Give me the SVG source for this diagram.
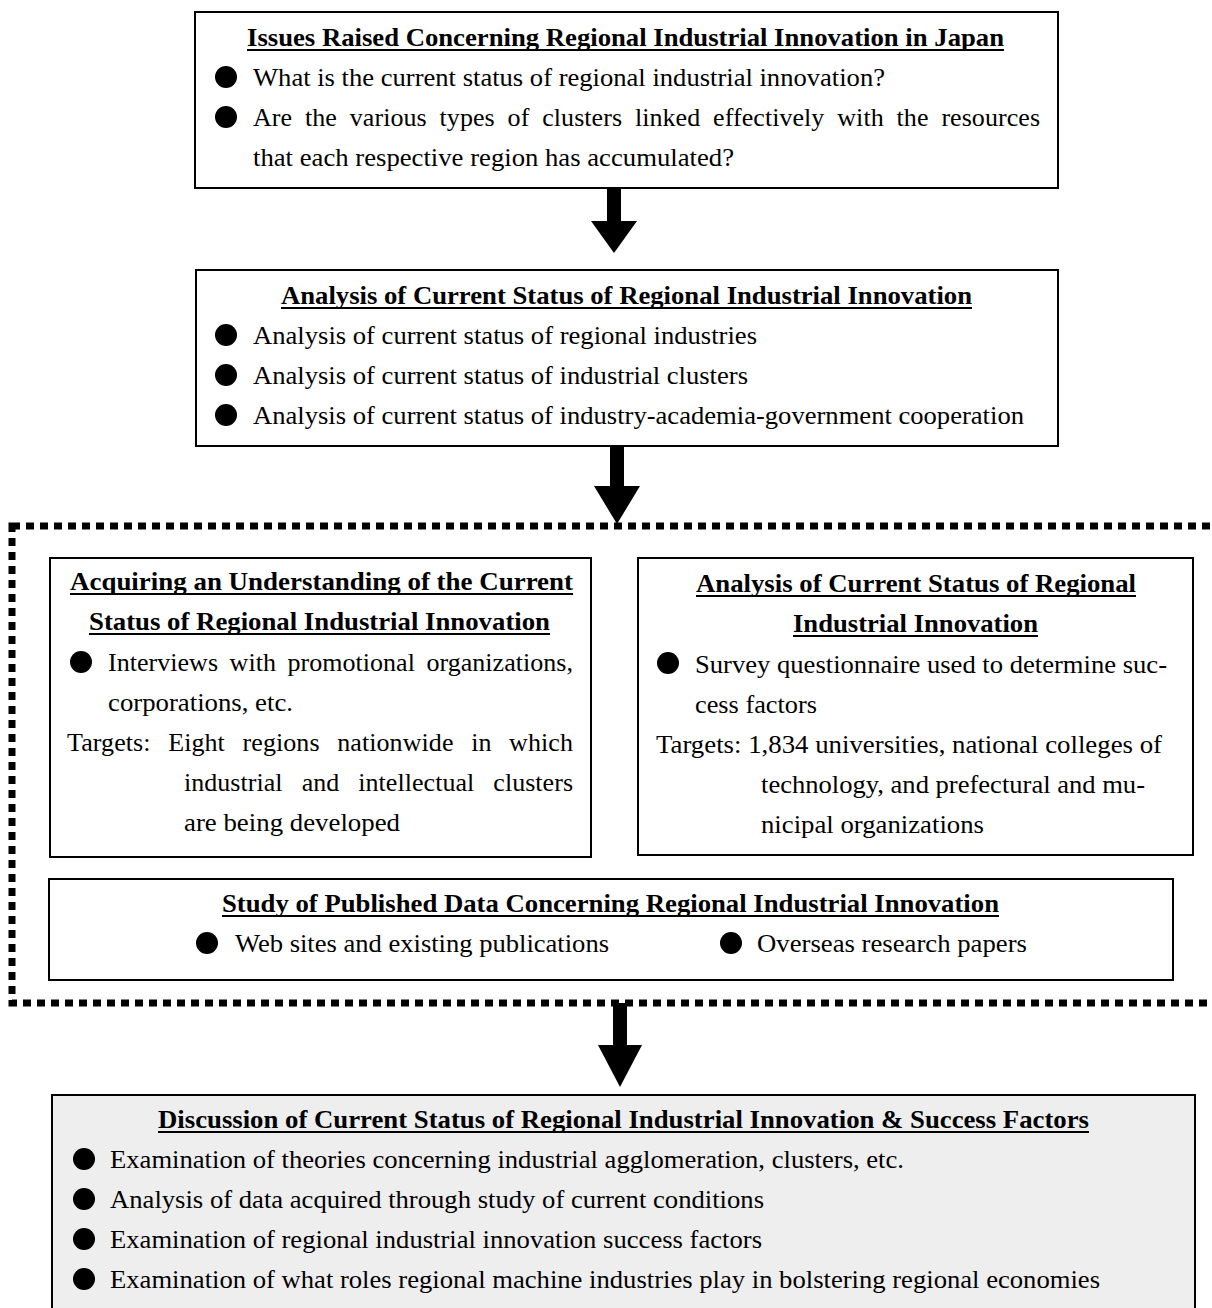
<svg xmlns="http://www.w3.org/2000/svg" width="1212" height="1308" viewBox="0 0 1212 1308">
<style>
.box{fill:#fff;stroke:#000;stroke-width:2}
.grey{fill:#eeeeee;stroke:#000;stroke-width:2}
text{font-family:"Liberation Serif","Times New Roman",serif;font-size:26px;fill:#000}
.t{font-weight:bold}
.ul{stroke:#000;stroke-width:2}
.dot{fill:#000}
.arrow{fill:#000}
.dash{fill:none;stroke:#000;stroke-width:7;stroke-dasharray:8 6}
</style>
<rect width="1212" height="1308" fill="#fff"/>
<g id="connectors">
<polygon class="arrow" points="607,188 621,188 621,221 637,221 614,253 591,221 607,221"/>
<polygon class="arrow" points="610,446 624,446 624,486 640,486 617,524 594,486 610,486"/>
<polygon class="arrow" points="613,1003 627,1003 627,1045 642,1045 620,1087 598,1045 613,1045"/>
</g>
<g id="group-frame">
<rect class="dash" x="12" y="526" width="1220" height="477"/>
</g>
<g id="node-issues">
<rect class="box" x="195" y="12" width="863" height="176"/>
<text class="t" x="247" y="46" textLength="757" lengthAdjust="spacingAndGlyphs">Issues Raised Concerning Regional Industrial Innovation in Japan</text>
<line class="ul" x1="247" y1="50" x2="1004" y2="50"/>
<circle class="dot" cx="226" cy="77" r="11"/>
<text x="253" y="86" textLength="632" lengthAdjust="spacingAndGlyphs">What is the current status of regional industrial innovation?</text>
<circle class="dot" cx="226" cy="117" r="11"/>
<text x="253" y="126" word-spacing="6.3" textLength="787" lengthAdjust="spacing">Are the various types of clusters linked effectively with the resources</text>
<text x="253" y="166" textLength="481" lengthAdjust="spacingAndGlyphs">that each respective region has accumulated?</text>
</g>
<g id="node-analysis">
<rect class="box" x="196" y="270" width="862" height="176"/>
<text class="t" x="281" y="304" textLength="691" lengthAdjust="spacingAndGlyphs">Analysis of Current Status of Regional Industrial Innovation</text>
<line class="ul" x1="281" y1="308" x2="972" y2="308"/>
<circle class="dot" cx="226" cy="335" r="11"/>
<text x="253" y="344" textLength="504" lengthAdjust="spacingAndGlyphs">Analysis of current status of regional industries</text>
<circle class="dot" cx="226" cy="375" r="11"/>
<text x="253" y="384" textLength="495" lengthAdjust="spacingAndGlyphs">Analysis of current status of industrial clusters</text>
<circle class="dot" cx="226" cy="415" r="11"/>
<text x="253" y="424" textLength="771" lengthAdjust="spacingAndGlyphs">Analysis of current status of industry-academia-government cooperation</text>
</g>
<g id="node-acquiring">
<rect class="box" x="50" y="558" width="541" height="299"/>
<text class="t" x="70" y="590" textLength="503" lengthAdjust="spacingAndGlyphs">Acquiring an Understanding of the Current</text>
<line class="ul" x1="70" y1="594" x2="573" y2="594"/>
<text class="t" x="89" y="630" textLength="461" lengthAdjust="spacingAndGlyphs">Status of Regional Industrial Innovation</text>
<line class="ul" x1="89" y1="634" x2="550" y2="634"/>
<circle class="dot" cx="81" cy="662" r="11"/>
<text x="108" y="671" word-spacing="5" textLength="465" lengthAdjust="spacing">Interviews with promotional organizations,</text>
<text x="108" y="711" textLength="185" lengthAdjust="spacingAndGlyphs">corporations, etc.</text>
<text x="67" y="751" word-spacing="11" textLength="506" lengthAdjust="spacing">Targets: Eight regions nationwide in which</text>
<text x="184" y="791" word-spacing="12.5" textLength="389" lengthAdjust="spacing">industrial and intellectual clusters</text>
<text x="184" y="831" textLength="216" lengthAdjust="spacingAndGlyphs">are being developed</text>
</g>
<g id="node-survey">
<rect class="box" x="638" y="558" width="555" height="297"/>
<text class="t" x="696" y="592" textLength="440" lengthAdjust="spacingAndGlyphs">Analysis of Current Status of Regional</text>
<line class="ul" x1="696" y1="596" x2="1136" y2="596"/>
<text class="t" x="793" y="632" textLength="245" lengthAdjust="spacingAndGlyphs">Industrial Innovation</text>
<line class="ul" x1="793" y1="636" x2="1038" y2="636"/>
<circle class="dot" cx="668" cy="663" r="11"/>
<text x="695" y="673" textLength="472" lengthAdjust="spacingAndGlyphs">Survey questionnaire used to determine suc-</text>
<text x="695" y="713" textLength="122" lengthAdjust="spacingAndGlyphs">cess factors</text>
<text x="656" y="753" textLength="506" lengthAdjust="spacingAndGlyphs">Targets: 1,834 universities, national colleges of</text>
<text x="761" y="793" textLength="384" lengthAdjust="spacingAndGlyphs">technology, and prefectural and mu-</text>
<text x="761" y="833" textLength="223" lengthAdjust="spacingAndGlyphs">nicipal organizations</text>
</g>
<g id="node-study">
<rect class="box" x="49" y="879" width="1124" height="101"/>
<text class="t" x="222" y="912" textLength="777" lengthAdjust="spacingAndGlyphs">Study of Published Data Concerning Regional Industrial Innovation</text>
<line class="ul" x1="222" y1="916" x2="999" y2="916"/>
<circle class="dot" cx="207" cy="943" r="11"/>
<text x="235" y="952" textLength="374" lengthAdjust="spacingAndGlyphs">Web sites and existing publications</text>
<circle class="dot" cx="731" cy="943" r="11"/>
<text x="757" y="952" textLength="270" lengthAdjust="spacingAndGlyphs">Overseas research papers</text>
</g>
<g id="node-discussion">
<rect class="grey" x="52" y="1095" width="1143" height="230"/>
<text class="t" x="158" y="1128" textLength="931" lengthAdjust="spacingAndGlyphs">Discussion of Current Status of Regional Industrial Innovation &amp; Success Factors</text>
<line class="ul" x1="158" y1="1132" x2="1089" y2="1132"/>
<circle class="dot" cx="84" cy="1159" r="11"/>
<text x="110" y="1168" textLength="794" lengthAdjust="spacingAndGlyphs">Examination of theories concerning industrial agglomeration, clusters, etc.</text>
<circle class="dot" cx="84" cy="1199" r="11"/>
<text x="110" y="1208" textLength="654" lengthAdjust="spacingAndGlyphs">Analysis of data acquired through study of current conditions</text>
<circle class="dot" cx="84" cy="1239" r="11"/>
<text x="110" y="1248" textLength="652" lengthAdjust="spacingAndGlyphs">Examination of regional industrial innovation success factors</text>
<circle class="dot" cx="84" cy="1279" r="11"/>
<text x="110" y="1288" textLength="990" lengthAdjust="spacingAndGlyphs">Examination of what roles regional machine industries play in bolstering regional economies</text>
</g>
</svg>
